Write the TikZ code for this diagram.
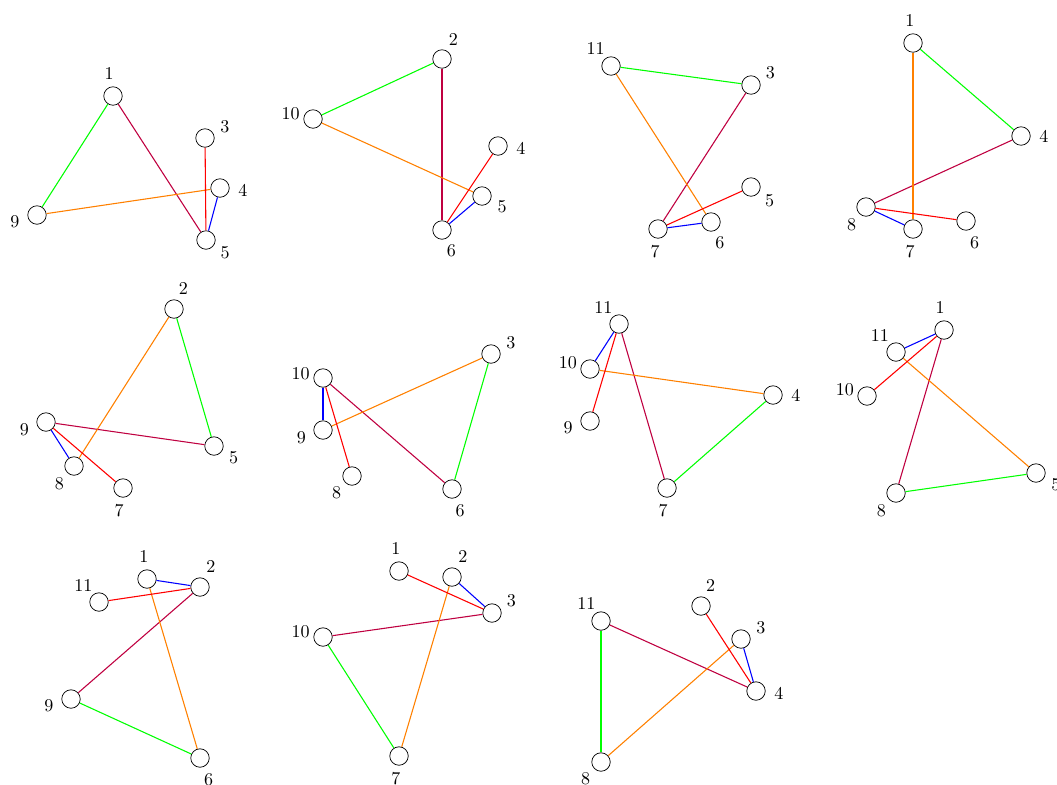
\documentclass[tikz,border=0pt]{standalone}
\usepackage{tikz}
\tikzset{
  vtx/.style ={draw, circle, minimum size=3.6mm, inner sep=0pt},
  lbl/.style ={anchor=center, label distance=2.6mm, inner sep=0pt},
  link/.style={line width=0.6pt},
}

\begin{document}
\begin{tikzpicture}[x=0.0195cm, y=-0.0195cm]
  \useasboundingbox (0,0) rectangle (1057,784);

  % graph 1
  \node[vtx, label={[lbl]100:1}]  (a1) at (113,96)  {};
  \node[vtx, label={[lbl]30:3}]   (a3) at (205,138) {};
  \node[vtx, label={[lbl]-5:4}]   (a4) at (220,188) {};
  \node[vtx, label={[lbl]-34:5}]  (a5) at (206,240) {};
  \node[vtx, label={[lbl]-164:9}] (a9) at (37,215)  {};
  \draw[link, green]     (a1) -- (a9);
  \draw[link, purple]    (a1) -- (a5);
  \draw[link, orange]    (a9) -- (a4);
  \draw[link, red]       (a3) -- (a5);
  \draw[link, blue]      (a4) -- (a5);

  % graph 2
  \node[vtx, label={[lbl]60:2}]    (b2)  at (442,59)  {};
  \node[vtx, label={[lbl]167:10}]  (b10) at (313,119) {};
  \node[vtx, label={[lbl]-5:4}]    (b4)  at (498,146) {};
  \node[vtx, label={[lbl]-28:5}]   (b5)  at (482,196) {};
  \node[vtx, label={[lbl]-66:6}]   (b6)  at (442,230) {};
  \draw[link, green]     (b10) -- (b2);
  \draw[link, purple]    (b2)  -- (b6);
  \draw[link, orange]    (b10) -- (b5);
  \draw[link, red]       (b6)  -- (b4);
  \draw[link, blue]      (b6)  -- (b5);

  % graph 3
  \node[vtx, label={[lbl]132:11}]  (c11) at (611,66)  {};
  \node[vtx, label={[lbl]32:3}]    (c3)  at (751,85)  {};
  \node[vtx, label={[lbl]-36:5}]   (c5)  at (751,187) {};
  \node[vtx, label={[lbl]-67:6}]   (c6)  at (711,222) {};
  \node[vtx, label={[lbl]-97:7}]   (c7)  at (658,229) {};
  \draw[link, green]     (c11) -- (c3);
  \draw[link, purple]    (c3)  -- (c7);
  \draw[link, orange]    (c11) -- (c6);
  \draw[link, red]       (c7)  -- (c5);
  \draw[link, blue]      (c7)  -- (c6);

  % graph 4
  \node[vtx, label={[lbl]98:1}]    (d1) at (913,43)   {};
  \node[vtx, label={[lbl]-2:4}]    (d4) at (1021,136) {};
  \node[vtx, label={[lbl]-129:8}]  (d8) at (866,207)  {};
  \node[vtx, label={[lbl]-97:7}]   (d7) at (913,229)  {};
  \node[vtx, label={[lbl]-68:6}]   (d6) at (966,221)  {};
  \draw[link, green]     (d1) -- (d4);
  \draw[link, purple]    (d4) -- (d8);
  \draw[link, orange]    (d1) -- (d7);
  \draw[link, red]       (d8) -- (d6);
  \draw[link, blue]      (d8) -- (d7);

  % graph 5
  \node[vtx, label={[lbl]66:2}]    (e2) at (174,309) {};
  \node[vtx, label={[lbl]-161:9}]  (e9) at (46,422)  {};
  \node[vtx, label={[lbl]-31:5}]   (e5) at (214,446) {};
  \node[vtx, label={[lbl]-130:8}]  (e8) at (74,466)  {};
  \node[vtx, label={[lbl]-100:7}]  (e7) at (123,488) {};
  \draw[link, green]     (e2) -- (e5);
  \draw[link, purple]    (e9) -- (e5);
  \draw[link, orange]    (e2) -- (e8);
  \draw[link, red]       (e9) -- (e7);
  \draw[link, blue]      (e9) -- (e8);

  % graph 6
  \node[vtx, label={[lbl]30:3}]    (f3)  at (491,354) {};
  \node[vtx, label={[lbl]168:10}]  (f10) at (323,378) {};
  \node[vtx, label={[lbl]-161:9}]  (f9)  at (323,430) {};
  \node[vtx, label={[lbl]-132:8}]  (f8)  at (352,476) {};
  \node[vtx, label={[lbl]-69:6}]   (f6)  at (452,489) {};
  \draw[link, green]     (f3)  -- (f6);
  \draw[link, purple]    (f10) -- (f6);
  \draw[link, orange]    (f9)  -- (f3);
  \draw[link, red]       (f10) -- (f8);
  \draw[link, blue]      (f10) -- (f9);

  % graph 7
  \node[vtx, label={[lbl]133:11}]  (g11) at (619,324) {};
  \node[vtx, label={[lbl]165:10}]  (g10) at (590,369) {};
  \node[vtx, label={[lbl]-163:9}]  (g9)  at (590,421) {};
  \node[vtx, label={[lbl]-2:4}]    (g4)  at (773,395) {};
  \node[vtx, label={[lbl]-100:7}]  (g7)  at (667,488) {};
  \draw[link, green]     (g4)  -- (g7);
  \draw[link, purple]    (g11) -- (g7);
  \draw[link, orange]    (g10) -- (g4);
  \draw[link, red]       (g11) -- (g9);
  \draw[link, blue]      (g11) -- (g10);

  % graph 8
  \node[vtx, label={[lbl]100:1}]   (h1)  at (944,330)  {};
  \node[vtx, label={[lbl]135:11}]  (h11) at (896,352)  {};
  \node[vtx, label={[lbl]165:10}]  (h10) at (867,396)  {};
  \node[vtx, label={[lbl]-30:5}]   (h5)  at (1036,473) {};
  \node[vtx, label={[lbl]-130:8}]  (h8)  at (896,493)  {};
  \draw[link, green]     (h8)  -- (h5);
  \draw[link, purple]    (h1)  -- (h8);
  \draw[link, orange]    (h11) -- (h5);
  \draw[link, red]       (h1)  -- (h10);
  \draw[link, blue]      (h1)  -- (h11);

  % graph 9
  \node[vtx, label={[lbl]98:1}]    (i1)  at (147,579) {};
  \node[vtx, label={[lbl]62:2}]    (i2)  at (200,587) {};
  \node[vtx, label={[lbl]133:11}]  (i11) at (99,602)  {};
  \node[vtx, label={[lbl]-164:9}]  (i9)  at (71,699)  {};
  \node[vtx, label={[lbl]-68:6}]   (i6)  at (200,758) {};
  \draw[link, green]     (i9)  -- (i6);
  \draw[link, purple]    (i9)  -- (i2);
  \draw[link, orange]    (i1)  -- (i6);
  \draw[link, red]       (i11) -- (i2);
  \draw[link, blue]      (i1)  -- (i2);

  % graph 10
  \node[vtx, label={[lbl]98:1}]    (j1)  at (399,571) {};
  \node[vtx, label={[lbl]62:2}]    (j2)  at (452,577) {};
  \node[vtx, label={[lbl]32:3}]    (j3)  at (492,613) {};
  \node[vtx, label={[lbl]167:10}]  (j10) at (323,637) {};
  \node[vtx, label={[lbl]-98:7}]   (j7)  at (399,756) {};
  \draw[link, green]     (j10) -- (j7);
  \draw[link, purple]    (j10) -- (j3);
  \draw[link, orange]    (j2)  -- (j7);
  \draw[link, red]       (j1)  -- (j3);
  \draw[link, blue]      (j2)  -- (j3);

  % graph 11
  \node[vtx, label={[lbl]65:2}]    (k2)  at (701,606) {};
  \node[vtx, label={[lbl]130:11}]  (k11) at (601,621) {};
  \node[vtx, label={[lbl]30:3}]    (k3)  at (741,639) {};
  \node[vtx, label={[lbl]-5:4}]    (k4)  at (756,691) {};
  \node[vtx, label={[lbl]-132:8}]  (k8)  at (601,762) {};
  \draw[link, green]     (k11) -- (k8);
  \draw[link, purple]    (k11) -- (k4);
  \draw[link, orange]    (k8)  -- (k3);
  \draw[link, red]       (k2)  -- (k4);
  \draw[link, blue]      (k3)  -- (k4);
\end{tikzpicture}
\end{document}
